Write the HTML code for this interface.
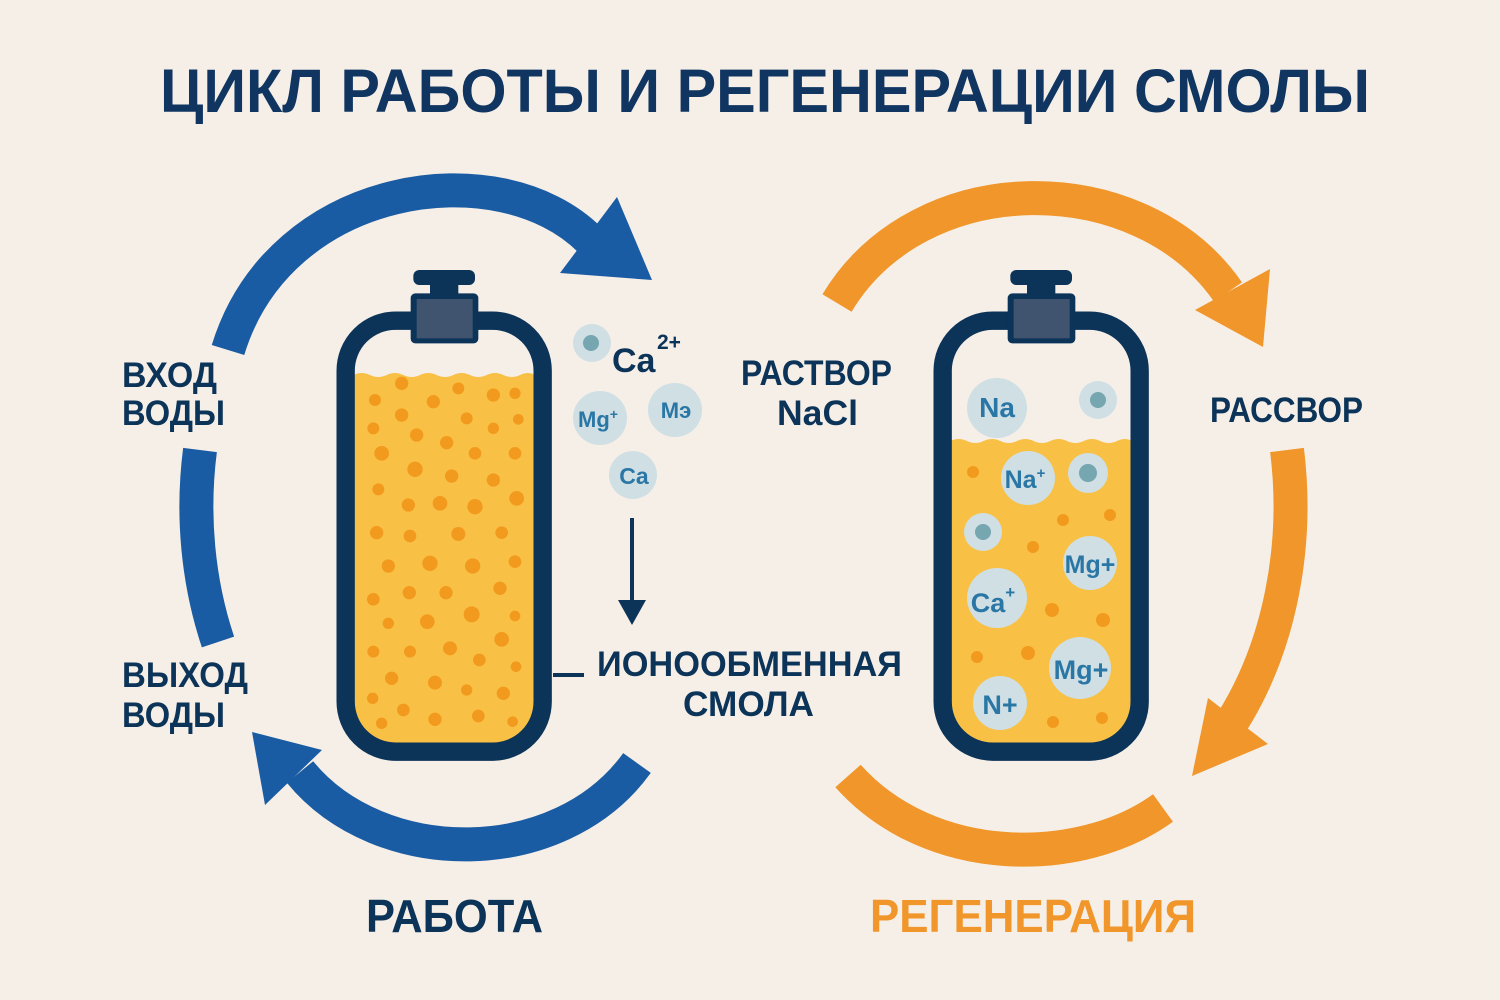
<!DOCTYPE html>
<html><head><meta charset="utf-8"><style>
html,body{margin:0;padding:0;background:#f6efe8;}
svg{display:block;}
text{font-family:"Liberation Sans",sans-serif;font-weight:bold;}
</style></head><body>
<svg width="1500" height="1000" viewBox="0 0 1500 1000" xmlns="http://www.w3.org/2000/svg">
<rect width="1500" height="1000" fill="#f6efe8"/>
<text x="160" y="112" font-size="61" fill="#0f3560" textLength="1210" lengthAdjust="spacingAndGlyphs">ЦИКЛ РАБОТЫ И РЕГЕНЕРАЦИИ СМОЛЫ</text>

<!-- blue arrows -->
<g fill="none" stroke="#1a5ca3" stroke-width="34">
<path d="M228,350 C280,180 500,150 590,240"/>
<path d="M200,450 A245,330 0 0 0 218,642"/>
<path d="M637,763 C560,870 380,870 300,772"/>
</g>
<polygon points="617,197 652,280 560,273" fill="#1a5ca3"/>
<polygon points="252,732 322,750 265,805" fill="#1a5ca3"/>

<!-- orange arrows -->
<g fill="none" stroke="#f0962a" stroke-width="34">
<path d="M837,303 C920,165 1140,165 1228,292"/>
<path d="M1287,450 A240,330 0 0 1 1232,722"/>
<path d="M848,776 C930,868 1080,868 1163,808"/>
</g>
<polygon points="1270,269 1263,347 1195,310" fill="#f0962a"/>
<polygon points="1208,698 1268,744 1192,776" fill="#f0962a"/>

<!-- left tank -->
<g transform="translate(320,260) scale(0.33333)">
<rect x="77" y="182" width="591" height="1293" rx="150" fill="#f6efe8"/>
<path d="M100,345 q25,-12 50,0 t50,0 t50,0 t50,0 t50,0 t50,0 t50,0 t50,0 t50,0 t50,0 t45,0 V1380 q0,70 -70,70 H170 q-70,0 -70,-70 Z" fill="#f8c145"/>
<g fill="#f29a1e">
<circle cx="245" cy="370" r="20"/><circle cx="415" cy="385" r="18"/><circle cx="520" cy="405" r="20"/><circle cx="585" cy="400" r="17"/><circle cx="165" cy="420" r="18"/><circle cx="340" cy="425" r="20"/><circle cx="245" cy="465" r="20"/><circle cx="440" cy="475" r="18"/><circle cx="595" cy="478" r="16"/><circle cx="160" cy="505" r="18"/><circle cx="520" cy="505" r="17"/><circle cx="290" cy="525" r="20"/><circle cx="380" cy="548" r="20"/><circle cx="185" cy="580" r="22"/><circle cx="465" cy="580" r="19"/><circle cx="585" cy="580" r="19"/><circle cx="285" cy="628" r="23"/><circle cx="395" cy="648" r="20"/><circle cx="520" cy="660" r="20"/><circle cx="175" cy="688" r="18"/><circle cx="590" cy="715" r="22"/><circle cx="265" cy="735" r="20"/><circle cx="360" cy="730" r="22"/><circle cx="465" cy="740" r="23"/><circle cx="170" cy="818" r="20"/><circle cx="270" cy="828" r="19"/><circle cx="415" cy="822" r="21"/><circle cx="545" cy="818" r="19"/><circle cx="205" cy="918" r="20"/><circle cx="330" cy="910" r="23"/><circle cx="458" cy="918" r="23"/><circle cx="585" cy="905" r="19"/><circle cx="160" cy="1018" r="19"/><circle cx="268" cy="998" r="20"/><circle cx="378" cy="998" r="20"/><circle cx="540" cy="985" r="20"/><circle cx="205" cy="1090" r="17"/><circle cx="322" cy="1085" r="22"/><circle cx="455" cy="1063" r="24"/><circle cx="585" cy="1068" r="16"/><circle cx="160" cy="1175" r="18"/><circle cx="270" cy="1175" r="18"/><circle cx="390" cy="1165" r="21"/><circle cx="478" cy="1200" r="19"/><circle cx="545" cy="1138" r="22"/><circle cx="588" cy="1220" r="16"/><circle cx="215" cy="1255" r="20"/><circle cx="345" cy="1268" r="21"/><circle cx="440" cy="1290" r="17"/><circle cx="550" cy="1300" r="20"/><circle cx="158" cy="1315" r="17"/><circle cx="250" cy="1350" r="19"/><circle cx="185" cy="1390" r="17"/><circle cx="345" cy="1378" r="20"/><circle cx="475" cy="1368" r="19"/><circle cx="578" cy="1385" r="16"/>
</g>
<rect x="77" y="182" width="591" height="1293" rx="150" fill="none" stroke="#0c3358" stroke-width="55"/>
<rect x="280" y="30" width="185" height="45" rx="18" fill="#0c3358"/>
<rect x="330" y="70" width="85" height="40" fill="#0c3358"/>
<rect x="272" y="100" width="203" height="150" rx="14" fill="#0c3358"/>
<rect x="290" y="117" width="168" height="118" fill="#41546f"/>
</g>

<!-- right tank -->
<g transform="translate(917,260) scale(0.33333)">
<rect x="77" y="182" width="591" height="1293" rx="150" fill="#f6efe8"/>
<path d="M100,543 q25,-12 50,0 t50,0 t50,0 t50,0 t50,0 t50,0 t50,0 t50,0 t50,0 t50,0 t45,0 V1380 q0,70 -70,70 H170 q-70,0 -70,-70 Z" fill="#f8c145"/>
<rect x="77" y="182" width="591" height="1293" rx="150" fill="none" stroke="#0c3358" stroke-width="55"/>
<rect x="280" y="30" width="185" height="45" rx="18" fill="#0c3358"/>
<rect x="330" y="70" width="85" height="40" fill="#0c3358"/>
<rect x="272" y="100" width="203" height="150" rx="14" fill="#0c3358"/>
<rect x="290" y="117" width="168" height="118" fill="#41546f"/>
</g>
<g fill="#f29a1e">
<circle cx="973" cy="472" r="6"/><circle cx="1063" cy="520" r="6"/><circle cx="1110" cy="515" r="6"/><circle cx="1033" cy="547" r="6"/><circle cx="1052" cy="610" r="7"/><circle cx="1103" cy="620" r="7"/><circle cx="977" cy="657" r="6"/><circle cx="1028" cy="653" r="7"/><circle cx="1053" cy="722" r="6"/><circle cx="1102" cy="718" r="6"/>
</g>
<g fill="#cfdfe4">
<circle cx="997" cy="408" r="30"/><circle cx="1098" cy="400" r="19"/><circle cx="1028" cy="478" r="27"/><circle cx="1088" cy="473" r="20"/><circle cx="983" cy="532" r="19"/><circle cx="1090" cy="563" r="27"/><circle cx="997" cy="598" r="30"/><circle cx="1080" cy="668" r="31"/><circle cx="1000" cy="703" r="27"/>
<circle cx="592" cy="343" r="19"/><circle cx="600" cy="418" r="27"/><circle cx="675" cy="410" r="27"/><circle cx="633" cy="475" r="24"/>
</g>
<g fill="#76a6b0"><circle cx="1098" cy="400" r="8"/><circle cx="1088" cy="473" r="9"/><circle cx="983" cy="532" r="8"/><circle cx="591" cy="343" r="8"/></g>
<g fill="#2a77a6" font-size="25" text-anchor="middle">
<text x="997" y="417" font-size="28">Na</text>
<text x="1025" y="488">Na<tspan font-size="15" dy="-10">+</tspan></text>
<text x="1090" y="573">Mg+</text>
<text x="993" y="612" font-size="27">Ca<tspan font-size="17" dy="-14">+</tspan></text>
<text x="1081" y="679" font-size="27">Mg+</text>
<text x="1000" y="714" font-size="27">N+</text>
<text x="598" y="427" font-size="22">Mg<tspan font-size="14" dy="-8">+</tspan></text>
<text x="676" y="418" font-size="22">Mэ</text>
<text x="634" y="484" font-size="23">Ca</text>
</g>
<text x="612" y="372" font-size="34" fill="#0c3358">Ca</text>
<text x="657" y="349" font-size="21" fill="#0c3358">2+</text>

<line x1="632" y1="518" x2="632" y2="602" stroke="#0c3358" stroke-width="4"/>
<polygon points="618,600 646,600 632,625" fill="#0c3358"/>
<line x1="553" y1="675" x2="584" y2="675" stroke="#0c3358" stroke-width="4"/>

<g fill="#0c3358" font-size="35">
<text x="122" y="387" textLength="95" lengthAdjust="spacingAndGlyphs">ВХОД</text>
<text x="122" y="425" textLength="103" lengthAdjust="spacingAndGlyphs">ВОДЫ</text>
<text x="122" y="687" textLength="126" lengthAdjust="spacingAndGlyphs">ВЫХОД</text>
<text x="122" y="727" textLength="103" lengthAdjust="spacingAndGlyphs">ВОДЫ</text>
<text x="741" y="385" textLength="151" lengthAdjust="spacingAndGlyphs">РАСТВОР</text>
<text x="777" y="425" textLength="81" lengthAdjust="spacingAndGlyphs">NaCl</text>
<text x="1210" y="422" textLength="153" lengthAdjust="spacingAndGlyphs">РАССВОР</text>
<text x="597" y="676" textLength="305" lengthAdjust="spacingAndGlyphs">ИОНООБМЕННАЯ</text>
<text x="683" y="716" textLength="131" lengthAdjust="spacingAndGlyphs">СМОЛА</text>
<text x="366" y="932" font-size="46" textLength="177" lengthAdjust="spacingAndGlyphs">РАБОТА</text>
</g>
<text x="870" y="932" font-size="46" fill="#f0962a" textLength="326" lengthAdjust="spacingAndGlyphs">РЕГЕНЕРАЦИЯ</text>
</svg>
</body></html>
